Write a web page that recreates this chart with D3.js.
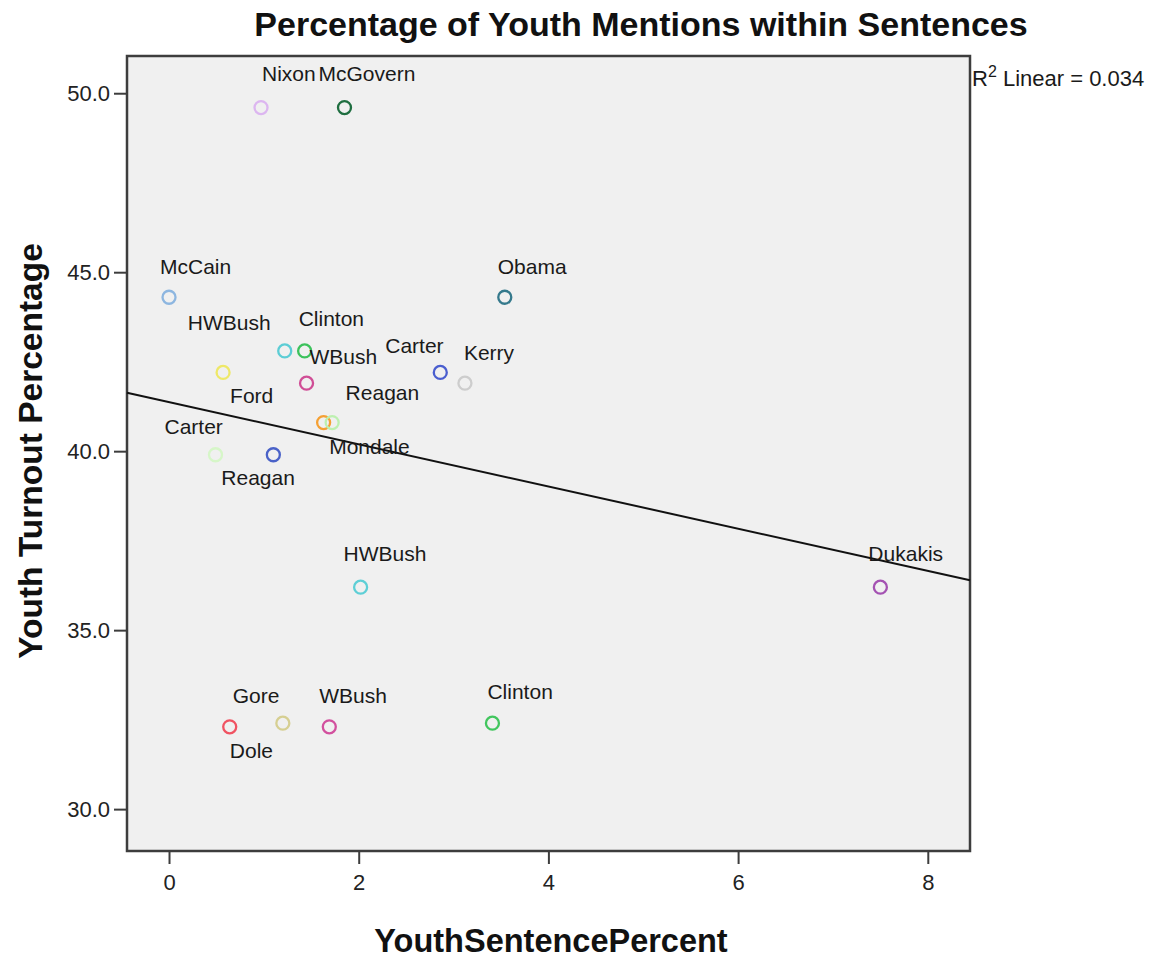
<!DOCTYPE html>
<html>
<head>
<meta charset="utf-8">
<script src="https://cdn.jsdelivr.net/npm/d3@7"></script>
<style>
  html, body { margin: 0; padding: 0; background: #ffffff; }
  svg { display: block; font-family: "Liberation Sans", Arial, sans-serif; }
</style>
</head>
<body>
<svg id="chart" width="1159" height="960"></svg>
<script>
// Candidate, share of sentences mentioning youth, and youth turnout for that election
const candidates = [
  "Nixon", "McGovern", "McCain", "Obama", "HWBush", "Clinton", "Ford", "Carter",
  "WBush", "Kerry", "Reagan", "Mondale", "Carter", "Reagan", "HWBush", "Dukakis",
  "Gore", "Dole", "WBush", "Clinton"
];
const youthSentencePercent = [
  0.97, 1.85, 0.00, 3.54, 1.22, 1.43, 0.57, 2.86,
  1.45, 3.12, 1.63, 1.72, 0.49, 1.10, 2.02, 7.50,
  0.64, 1.20, 1.69, 3.41
];
const youthTurnout = [
  49.6, 49.6, 44.3, 44.3, 42.8, 42.8, 42.2, 42.2,
  41.9, 41.9, 40.8, 40.8, 39.9, 39.9, 36.2, 36.2,
  32.3, 32.4, 32.3, 32.4
];
const xTicks = [0, 2, 4, 6, 8];
const yTicks = [30, 35, 40, 45, 50];

// Marker colour for each case
const markerColors = [
  "#dcb6f0", "#1f6e40", "#8db6e0", "#35798c", "#5ccdd5", "#3cc25c", "#eee868", "#4a5ecf",
  "#d04e96", "#cdcdcd", "#f5a033", "#bdf0b0", "#d6f6c8", "#4a62c8", "#5ecfd6", "#a452b2",
  "#f05362", "#d6cf92", "#d2509e", "#42c65e"
];
// Case label placement relative to its marker: [dx, dy] in pixels (start anchor, baseline)
const labelPlacement = [
  [1, -27], [-26, -27], [-9, -23], [-7, -23], [-97, -21], [-6, -25], [7, 31], [-55, -19],
  [3, -19], [-1, -23], [22, -23], [-3, 31], [-51, -21], [-52, 30], [-17, -26], [-12, -26],
  [3, -24], [-53, 35], [-10, -24], [-5, -24]
];

const points = candidates.map((name, i) => ({
  name,
  x: youthSentencePercent[i],
  y: youthTurnout[i],
  color: markerColors[i],
  off: labelPlacement[i]
}));

const svg = d3.select("#chart");
const plot = { left: 127, right: 970, top: 56, bottom: 851 };

const x = d3.scaleLinear().domain([-0.443, 8.445]).range([plot.left, plot.right]);
const y = d3.scaleLinear().domain([28.83, 51.04]).range([plot.bottom, plot.top]);

// Plot area
svg.append("rect")
  .attr("x", plot.left).attr("y", plot.top)
  .attr("width", plot.right - plot.left).attr("height", plot.bottom - plot.top)
  .attr("fill", "#f0f0f0")
  .attr("stroke", "#3d3d3d").attr("stroke-width", 2.5);

// Axes
const yAxis = d3.axisLeft(y).tickValues(yTicks).tickFormat(d3.format(".1f"))
  .tickSize(13).tickSizeOuter(0).tickPadding(4);
const xAxis = d3.axisBottom(x).tickValues(xTicks).tickFormat(d3.format("d"))
  .tickSize(13).tickSizeOuter(0).tickPadding(10);

const gy = svg.append("g").attr("transform", `translate(${plot.left},0)`).call(yAxis);
const gx = svg.append("g").attr("transform", `translate(0,${plot.bottom})`).call(xAxis);
[gx, gy].forEach(g => {
  g.select(".domain").remove();
  g.selectAll(".tick line").attr("stroke", "#3d3d3d").attr("stroke-width", 2);
  g.selectAll(".tick text")
    .attr("fill", "#222")
    .style("font-size", "22px")
    .style("font-family", "'Liberation Sans', Arial, sans-serif");
});

// Least-squares fit line
const mx = d3.mean(points, d => d.x);
const my = d3.mean(points, d => d.y);
const sxy = d3.sum(points, d => (d.x - mx) * (d.y - my));
const sxx = d3.sum(points, d => (d.x - mx) ** 2);
const syy = d3.sum(points, d => (d.y - my) ** 2);
const slope = sxy / sxx;
const intercept = my - slope * mx;
const r2 = (sxy * sxy) / (sxx * syy);

const [x0, x1] = x.domain();
svg.append("line")
  .attr("x1", x(x0)).attr("y1", y(intercept + slope * x0))
  .attr("x2", x(x1)).attr("y2", y(intercept + slope * x1))
  .attr("stroke", "#111").attr("stroke-width", 2);

// Markers
svg.append("g").selectAll("circle")
  .data(points).join("circle")
  .attr("cx", d => x(d.x)).attr("cy", d => y(d.y))
  .attr("r", 6.5)
  .attr("fill", "none")
  .attr("stroke", d => d.color)
  .attr("stroke-width", 2.3);

// Case labels
svg.append("g").selectAll("text")
  .data(points).join("text")
  .attr("x", d => x(d.x) + d.off[0])
  .attr("y", d => y(d.y) + d.off[1])
  .attr("fill", "#1a1a1a")
  .style("font-size", "21px")
  .text(d => d.name);

// Fit annotation
const r2Text = svg.append("text")
  .attr("x", plot.right + 2).attr("y", 86)
  .attr("fill", "#1a1a1a")
  .style("font-size", "22px");
r2Text.append("tspan").text("R");
r2Text.append("tspan").attr("dy", -9).style("font-size", "16px").text("2");
r2Text.append("tspan").attr("dy", 9).text(" Linear = " + d3.format(".3f")(r2));

// Titles
svg.append("text")
  .attr("x", 641).attr("y", 36)
  .attr("text-anchor", "middle")
  .style("font-size", "34px").style("font-weight", "bold")
  .attr("fill", "#111")
  .text("Percentage of Youth Mentions within Sentences");

svg.append("text")
  .attr("x", 551).attr("y", 952)
  .attr("text-anchor", "middle")
  .style("font-size", "32.5px").style("font-weight", "bold")
  .attr("fill", "#111")
  .text("YouthSentencePercent");

svg.append("text")
  .attr("transform", "translate(42,451) rotate(-90)")
  .attr("text-anchor", "middle")
  .style("font-size", "33.5px").style("font-weight", "bold")
  .attr("fill", "#111")
  .text("Youth Turnout Percentage");
</script>
</body>
</html>
